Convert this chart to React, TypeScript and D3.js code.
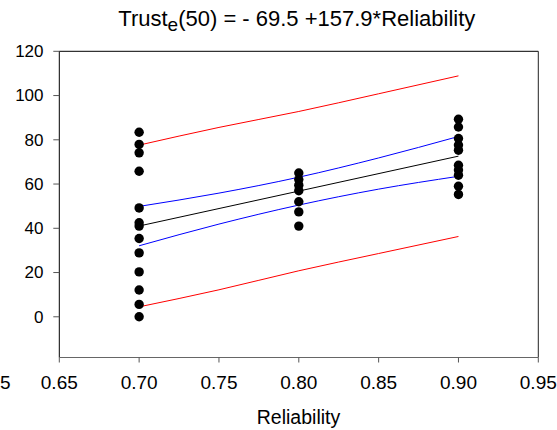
import React from "react";
import * as d3 from "d3";

// ---- data ----
const xTicks = [0.65, 0.7, 0.75, 0.8, 0.85, 0.9, 0.95];
const yTicks = [0, 20, 40, 60, 80, 100, 120];

const reliabilityLevels = [0.7, 0.8, 0.9];
const trustAt070 = [83.4, 77.9, 74.1, 65.8, 49.2, 42.5, 41.0, 35.4, 28.9, 20.3, 12.1, 5.6, 0];
const trustAt080 = [65.0, 62.0, 59.5, 57.0, 52.0, 47.4, 41.0];
const trustAt090 = [89.3, 85.8, 80.6, 77.6, 75.3, 68.5, 66.3, 64.0, 59.0, 55.3];

const intercept = -69.5;
const slope = 157.9;
const fitX = [0.7, 0.9];

const bandX = [0.7, 0.75, 0.8, 0.85, 0.9];
const ciUpper = [49.9, 55.9, 63.1, 71.8, 81.5];
const ciLower = [32.1, 41.9, 50.5, 57.7, 63.5];
const piUpper = [77.6, 85.6, 92.8, 100.8, 108.9];
const piLower = [4.5, 12.2, 20.8, 28.6, 36.3];

const W = 557;
const H = 430;
const plot = { left: 59.3, right: 538.3, top: 51.3, bottom: 357.5 };
const FONT = "'Liberation Sans', Arial, sans-serif";

export default function App() {
  const x = d3.scaleLinear().domain([0.65, 0.95]).range([plot.left, plot.right]);
  const y = d3.scaleLinear().domain([-18.4, 120]).range([plot.bottom, plot.top]);

  const groups = [trustAt070, trustAt080, trustAt090];
  const points: { rx: number; t: number }[] = [];
  groups.forEach((g, i) => g.forEach((t) => points.push({ rx: reliabilityLevels[i], t })));

  const bandLine = d3
    .line<number>()
    .x((_, i) => x(bandX[i]))
    .y((d) => y(d))
    .curve(d3.curveMonotoneX);

  const fitLine = d3
    .line<number>()
    .x((d) => x(d))
    .y((d) => y(intercept + slope * d));

  return (
    <svg
      width={W}
      height={H}
      style={{ position: "absolute", left: 0, top: 0, background: "#fff" }}
      fontFamily={FONT}
    >
      <rect x={0} y={0} width={W} height={H} fill="#fff" />
      {/* title */}
      <text x={296.8} y={26} textAnchor="middle" fontSize={22} fill="#000">
        Trust
        <tspan fontSize={19} dy={5}>e</tspan>
        <tspan dy={-5}>(50) = - 69.5 +157.9*Reliability</tspan>
      </text>

      {/* bands and fit */}
      <path d={bandLine(piUpper) || ""} fill="none" stroke="#ff0000" strokeWidth={1} />
      <path d={bandLine(piLower) || ""} fill="none" stroke="#ff0000" strokeWidth={1} />
      <path d={bandLine(ciUpper) || ""} fill="none" stroke="#0000ff" strokeWidth={1} />
      <path d={bandLine(ciLower) || ""} fill="none" stroke="#0000ff" strokeWidth={1} />
      <path d={fitLine(fitX) || ""} fill="none" stroke="#000" strokeWidth={1} />

      {/* points */}
      {points.map((p, i) => (
        <circle key={i} cx={x(p.rx)} cy={y(p.t)} r={4.7} fill="#000" />
      ))}

      {/* frame */}
      <line x1={plot.left} x2={plot.right} y1={plot.top} y2={plot.top} stroke="#000" strokeWidth={1} />
      <line x1={plot.right} x2={plot.right} y1={plot.top} y2={plot.bottom} stroke="#222" strokeWidth={1} />
      <line x1={plot.left} x2={plot.left} y1={plot.top} y2={plot.bottom} stroke="#000" strokeWidth={1} />
      <line x1={plot.left} x2={plot.right} y1={plot.bottom} y2={plot.bottom} stroke="#666" strokeWidth={1} />

      {/* y axis ticks */}
      {yTicks.map((t) => (
        <g key={"y" + t}>
          <line x1={plot.left - 6} x2={plot.left} y1={y(t)} y2={y(t)} stroke="#555" strokeWidth={1} />
          <text x={43.5} y={y(t)} dy="0.35em" textAnchor="end" fontSize={17} fill="#000">
            {t}
          </text>
        </g>
      ))}

      {/* x axis ticks */}
      {xTicks.map((t) => (
        <g key={"x" + t}>
          <line x1={x(t)} x2={x(t)} y1={plot.bottom} y2={plot.bottom + 5} stroke="#555" strokeWidth={1} />
          <text x={x(t)} y={388.5} textAnchor="middle" fontSize={19} fill="#000">
            {d3.format(".2f")(t)}
          </text>
        </g>
      ))}
      <text x={0} y={388.5} textAnchor="start" fontSize={19} fill="#000">5</text>

      {/* x label */}
      <text x={298.5} y={424} textAnchor="middle" fontSize={19.5} fill="#000">
        Reliability
      </text>
    </svg>
  );
}
